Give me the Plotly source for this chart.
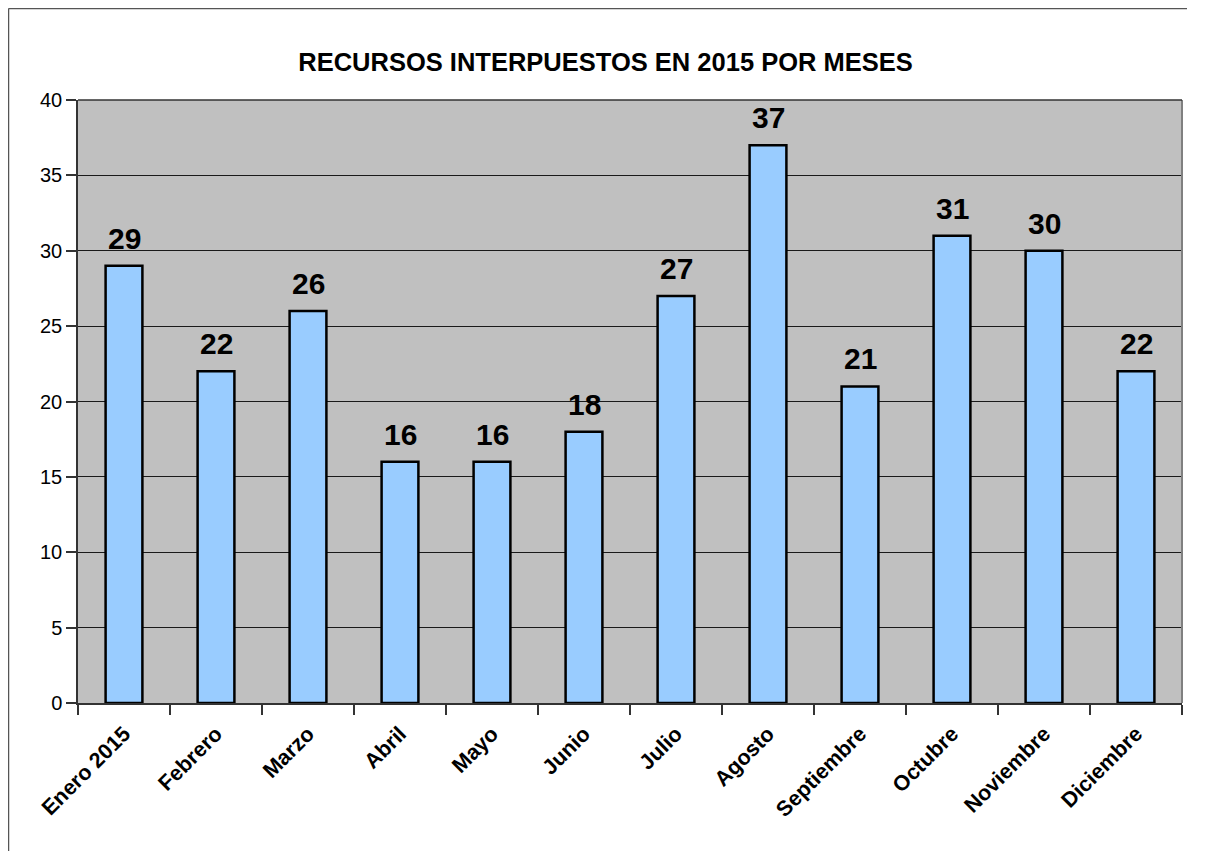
import plotly.graph_objects as go

months = ["Enero 2015", "Febrero", "Marzo", "Abril", "Mayo", "Junio", "Julio",
          "Agosto", "Septiembre", "Octubre", "Noviembre", "Diciembre"]
values = [29, 22, 26, 16, 16, 18, 27, 37, 21, 31, 30, 22]
title_text = "RECURSOS INTERPUESTOS EN 2015 POR MESES"

FONT = "Liberation Sans, Arial"
W, H = 1180, 843
L, R, T, B = 70, 6, 92, 148
PW, PH = W - L - R, H - T - B

fig = go.Figure()
fig.add_trace(go.Bar(
    x=months, y=values, width=0.4,
    marker=dict(color="#99CCFF", line=dict(color="black", width=2.5)),
))
for m, v in zip(months, values):
    fig.add_annotation(x=m, y=v, text="<b>%d</b>" % v, showarrow=False,
                       yanchor="bottom", yshift=9,
                       font=dict(family=FONT, size=30, color="black"))

fig.update_layout(
    width=W, height=H,
    margin=dict(l=L, r=R, t=T, b=B),
    paper_bgcolor="white", plot_bgcolor="#C0C0C0",
    showlegend=False,
    title=dict(text="<b>" + title_text + "</b>", x=597.5 / W, xanchor="center",
               y=1 - 54 / H, yanchor="middle",
               font=dict(family=FONT, size=25.5, color="black")),
    font=dict(family=FONT, color="black"),
)
fig.update_xaxes(
    type="category", tickson="boundaries", ticks="outside", ticklen=10,
    tickcolor="#333", tickwidth=1.5, tickangle=-45,
    tickfont=dict(size=21.5, family=FONT),
    ticktext=["<b>" + m + "</b>" for m in months], tickvals=months,
    ticklabelstandoff=8,
    showline=True, linecolor="#333", linewidth=1.5,
    showgrid=False,
)
fig.update_yaxes(
    range=[0, 40], dtick=5, ticks="outside", ticklen=10, tickcolor="#333",
    tickwidth=1.5, tickfont=dict(size=20, family=FONT),
    showgrid=True, gridcolor="#1a1a1a", gridwidth=1,
    showline=True, linecolor="#333", linewidth=1.5, zeroline=False,
)
# plot area right border (gray) and top border
fig.add_shape(type="line", xref="paper", yref="paper", x0=1, x1=1, y0=0, y1=1,
              line=dict(color="#808080", width=2))
fig.add_shape(type="line", xref="paper", yref="paper", x0=0, x1=1, y0=1, y1=1,
              line=dict(color="#333", width=1.5))
# chart outer border: left edge and top edge only
xl = (0.5 - L) / PW
yt = 1 + (T - 0.5) / PH
fig.add_shape(type="line", xref="paper", yref="paper",
              x0=xl, x1=xl, y0=-B / PH, y1=yt,
              line=dict(color="#555", width=1.5), layer="below")
fig.add_shape(type="line", xref="paper", yref="paper",
              x0=xl, x1=(W - 1 - L) / PW, y0=yt, y1=yt,
              line=dict(color="#555", width=1.5), layer="below")

fig.write_html("out.html")
